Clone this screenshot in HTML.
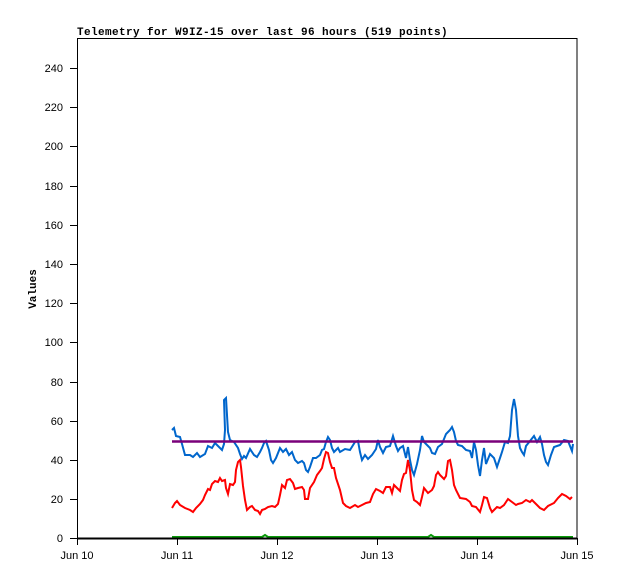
<!DOCTYPE html>
<html><head><style>
body{margin:0;background:#fff;}
svg{display:block;}
text{font-family:"Liberation Sans",sans-serif;font-size:11px;fill:#000;}
</style></head><body>
<svg width="618" height="579" viewBox="0 0 618 579" xmlns="http://www.w3.org/2000/svg">
<rect width="618" height="579" fill="#fff"/>
<text x="77" y="35" style="font-family:'Liberation Mono',monospace;font-weight:bold;font-size:11px;letter-spacing:0.4px">Telemetry for W9IZ-15 over last 96 hours (519 points)</text>
<rect x="77.5" y="38.5" width="499.5" height="500" fill="none" stroke="#000" stroke-width="1"/>
<g stroke="#000" stroke-width="1">
<line x1="70" y1="538.5" x2="77" y2="538.5"/>
<line x1="70" y1="499.5" x2="77" y2="499.5"/>
<line x1="70" y1="460.5" x2="77" y2="460.5"/>
<line x1="70" y1="421.5" x2="77" y2="421.5"/>
<line x1="70" y1="382.5" x2="77" y2="382.5"/>
<line x1="70" y1="342.5" x2="77" y2="342.5"/>
<line x1="70" y1="303.5" x2="77" y2="303.5"/>
<line x1="70" y1="264.5" x2="77" y2="264.5"/>
<line x1="70" y1="225.5" x2="77" y2="225.5"/>
<line x1="70" y1="186.5" x2="77" y2="186.5"/>
<line x1="70" y1="146.5" x2="77" y2="146.5"/>
<line x1="70" y1="107.5" x2="77" y2="107.5"/>
<line x1="70" y1="68.5" x2="77" y2="68.5"/>
<line x1="77.5" y1="538" x2="77.5" y2="545"/>
<line x1="177.5" y1="538" x2="177.5" y2="545"/>
<line x1="277.5" y1="538" x2="277.5" y2="545"/>
<line x1="377.5" y1="538" x2="377.5" y2="545"/>
<line x1="477.5" y1="538" x2="477.5" y2="545"/>
<line x1="577.5" y1="538" x2="577.5" y2="545"/>
</g>
<g text-anchor="end">
<text x="63" y="542">0</text><text x="63" y="503">20</text><text x="63" y="464">40</text>
<text x="63" y="425">60</text><text x="63" y="386">80</text><text x="63" y="346">100</text>
<text x="63" y="307">120</text><text x="63" y="268">140</text><text x="63" y="229">160</text>
<text x="63" y="190">180</text><text x="63" y="150">200</text><text x="63" y="111">220</text>
<text x="63" y="72">240</text>
</g>
<g text-anchor="middle">
<text x="77" y="559">Jun 10</text><text x="177" y="559">Jun 11</text><text x="277" y="559">Jun 12</text>
<text x="377" y="559">Jun 13</text><text x="477" y="559">Jun 14</text><text x="577" y="559">Jun 15</text>
</g>
<text transform="translate(36,289) rotate(-90)" text-anchor="middle" style="font-family:'Liberation Mono',monospace;font-weight:bold">Values</text>
<polyline fill="none" stroke="#0a9a0a" stroke-width="2" points="172,537 262,537 265,535 268,537 428,537 431,535 434,537 573,537"/>
<line x1="77" y1="538.5" x2="577" y2="538.5" stroke="#000" stroke-width="2"/>
<polyline fill="none" stroke="#ff0000" stroke-width="2" points="172,508 175,503 177,501 180,505 185,508 190,510 193,512 196,508 200,504 203,500 205,495 208,489 210,490 212,484 215,481 218,482 220,478 222,481 225,480 226,488 228,494 230,484 233,485 235,482 236,470 238,462 240,460 241,467 243,486 245,500 247,510 250,507 252,506 255,510 258,511 260,514 262,510 265,509 268,507 272,506 275,507 278,504 280,495 282,485 285,488 287,480 290,479 293,483 295,489 298,488 302,487 304,490 305,499 308,499 310,488 314,482 317,475 320,471 322,468 324,459 326,452 328,453 330,462 332,468 334,468 336,478 340,490 343,503 346,506 350,508 355,505 358,507 362,505 366,503 370,502 373,494 376,489 380,491 383,493 386,487 390,487 392,493 394,485 396,487 400,491 402,480 404,474 406,473 408,460 410,470 412,490 414,500 417,502 420,505 422,497 424,488 428,493 432,490 434,486 436,475 438,472 440,475 444,479 446,476 448,461 450,460 452,470 454,485 456,490 460,498 466,499 470,502 472,506 476,507 480,512 482,505 484,497 487,498 490,508 492,512 494,510 497,507 500,508 504,505 508,499 512,502 516,505 518,504 522,503 526,500 530,502 532,500 536,504 540,508 544,510 548,506 554,503 558,498 562,494 566,496 570,499 572,497"/>
<polyline fill="none" stroke="#0066cc" stroke-width="2" points="172,430 174,428 176,436 180,437 182,444 185,455 190,455 193,457 197,453 200,457 205,454 208,446 212,448 215,443 218,446 222,450 224,444 225,430 224,400 226,398 228,432 230,440 234,442 238,448 240,454 242,459 244,456 246,458 250,449 254,455 257,457 260,452 262,448 264,443 266,441 269,450 271,460 273,463 276,458 280,448 283,452 286,449 289,455 292,452 295,460 298,463 302,461 304,463 306,470 308,472 310,467 313,458 316,458 320,455 322,450 324,449 326,442 328,437 330,440 332,448 334,452 338,448 340,452 345,449 350,450 355,442 358,441 360,452 362,460 365,455 368,459 372,455 376,449 378,440 380,447 383,453 386,447 390,446 393,436 396,446 398,451 400,448 403,446 406,458 408,447 410,460 412,470 414,475 417,464 420,450 422,436 424,442 428,446 430,448 432,453 435,454 438,447 442,444 446,434 448,432 450,430 452,427 454,432 456,441 458,445 462,446 466,450 470,451 472,458 474,442 476,450 478,465 480,476 482,460 484,448 486,464 490,454 494,458 497,467 500,458 502,452 505,442 508,443 510,436 512,410 514,399 516,410 518,436 520,448 522,452 524,455 526,446 530,441 534,436 537,442 540,437 542,444 544,455 546,462 548,465 551,455 554,447 557,446 560,445 564,440 568,441 570,446 572,451 573,444"/>
<line x1="172" y1="441.5" x2="573" y2="441.5" stroke="#7a007a" stroke-width="2.5"/>
</svg>
</body></html>
